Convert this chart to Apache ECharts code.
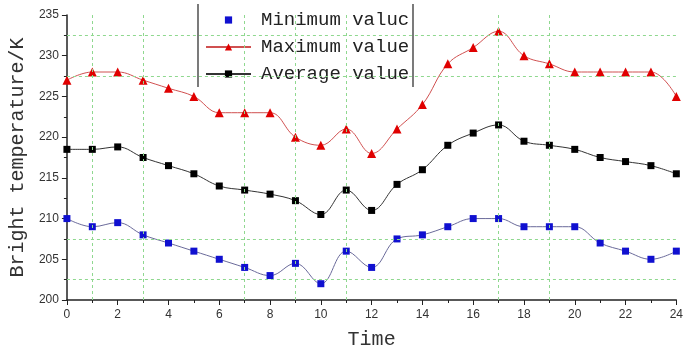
<!DOCTYPE html>
<html>
<head>
<meta charset="utf-8">
<script src="https://cdn.jsdelivr.net/npm/echarts@6/dist/echarts.min.js"></script>
<style>
html,body{margin:0;padding:0;background:#fff;}
#chart{width:686px;height:358px;}
</style>
</head>
<body>
<div id="chart"></div>
<script>
// Hours of the day
var hours = [0,1,2,3,4,5,6,7,8,9,10,11,12,13,14,15,16,17,18,19,20,21,22,23,24];
// Bright temperature (K) per hour
var minValues = [210,209,209.5,208,207,206,205,204,203,204.5,202,206,204,207.5,208,209,210,210,209,209,209,207,206,205,206];
var maxValues = [227,228,228,227,226,225,223,223,223,220,219,221,218,221,224,229,231,233,230,229,228,228,228,228,225];
var avgValues = [218.5,218.5,218.8,217.5,216.5,215.5,214,213.5,213,212.2,210.5,213.5,211,214.2,216,219,220.5,221.5,219.5,219,218.5,217.5,217,216.5,215.5];
var seriesNames = ['Minimum valuc','Maximum value','Average value'];
// Reference grid lines
var guideX = [1,3,7,9,11,17,19];
var guideY = [232.5,227.5,207.5,202.5];

function pairs(vals){ return hours.map(function(h,i){ return [h, vals[i]]; }); }

var guideLines = guideX.map(function(v){ return {xAxis: v}; })
  .concat(guideY.map(function(v){ return {yAxis: v}; }));

var chart = echarts.init(document.getElementById('chart'), null, {renderer:'canvas'});
var monoFont = '"Liberation Mono", "DejaVu Sans Mono", monospace';
chart.setOption({
  animation:false,
  backgroundColor:'#fff',
  grid:{left:66,right:8,top:15,bottom:58},
  legend:{
    orient:'vertical', left:198, top:0,
    padding:[10,2,4,7],
    itemGap:7, itemWidth:45, itemHeight:9,
    backgroundColor:'#fff',
    textStyle:{fontFamily:monoFont,fontSize:19,color:'#222',lineHeight:20,padding:[0,0,0,5]},
    data:[
      {name:seriesNames[0], lineStyle:{opacity:0}},
      {name:seriesNames[1]},
      {name:seriesNames[2]}
    ]
  },
  xAxis:{
    type:'value', min:0, max:24, interval:2,
    name:'Time', nameLocation:'middle', nameGap:30,
    nameTextStyle:{fontFamily:monoFont,fontSize:20,color:'#333'},
    axisLine:{lineStyle:{color:'#222',width:1.5}},
    axisTick:{length:5,lineStyle:{color:'#222'}},
    minorTick:{show:true,splitNumber:2,length:3,lineStyle:{color:'#222'}},
    axisLabel:{color:'#333',fontFamily:'Arial, "Liberation Sans"',fontSize:12,margin:9},
    splitLine:{show:false}
  },
  yAxis:{
    type:'value', min:200, max:235, interval:5,
    name:'Bright temperature/K', nameLocation:'middle', nameGap:34, nameRotate:90,
    nameTextStyle:{fontFamily:monoFont,fontSize:20,color:'#333'},
    axisLine:{show:true,lineStyle:{color:'#222',width:1.5}},
    axisTick:{show:true,length:5,lineStyle:{color:'#222'}},
    minorTick:{show:true,splitNumber:2,length:3,lineStyle:{color:'#222'}},
    axisLabel:{color:'#333',fontFamily:'Arial, "Liberation Sans"',fontSize:12,margin:8},
    splitLine:{show:false}
  },
  graphic:[
    {type:'line',z:100,shape:{x1:198,y1:4,x2:198,y2:87},style:{stroke:'#222',lineWidth:1.2}},
    {type:'line',z:100,shape:{x1:413,y1:4,x2:413,y2:87},style:{stroke:'#222',lineWidth:1.2}}
  ],
  series:[
    {
      name:seriesNames[0], type:'line', smooth:0.4, data:pairs(minValues),
      symbol:'rect', symbolSize:7,
      itemStyle:{color:'#1010d0',borderWidth:0},
      lineStyle:{color:'#6a6a9a',width:1},
      markLine:{
        silent:true, symbol:['none','none'], label:{show:false},
        lineStyle:{color:'#8fd88f',type:[3,3],width:1},
        data:guideLines
      },
      z:3
    },
    {
      name:seriesNames[1], type:'line', smooth:0.4, data:pairs(maxValues),
      symbol:'triangle', symbolSize:9,
      itemStyle:{color:'#e00000',borderWidth:0},
      lineStyle:{color:'#d05050',width:1},
      z:3
    },
    {
      name:seriesNames[2], type:'line', smooth:0.4, data:pairs(avgValues),
      symbol:'rect', symbolSize:7,
      itemStyle:{color:'#000',borderWidth:0},
      lineStyle:{color:'#333',width:1},
      z:3
    }
  ]
});
</script>
</body>
</html>
